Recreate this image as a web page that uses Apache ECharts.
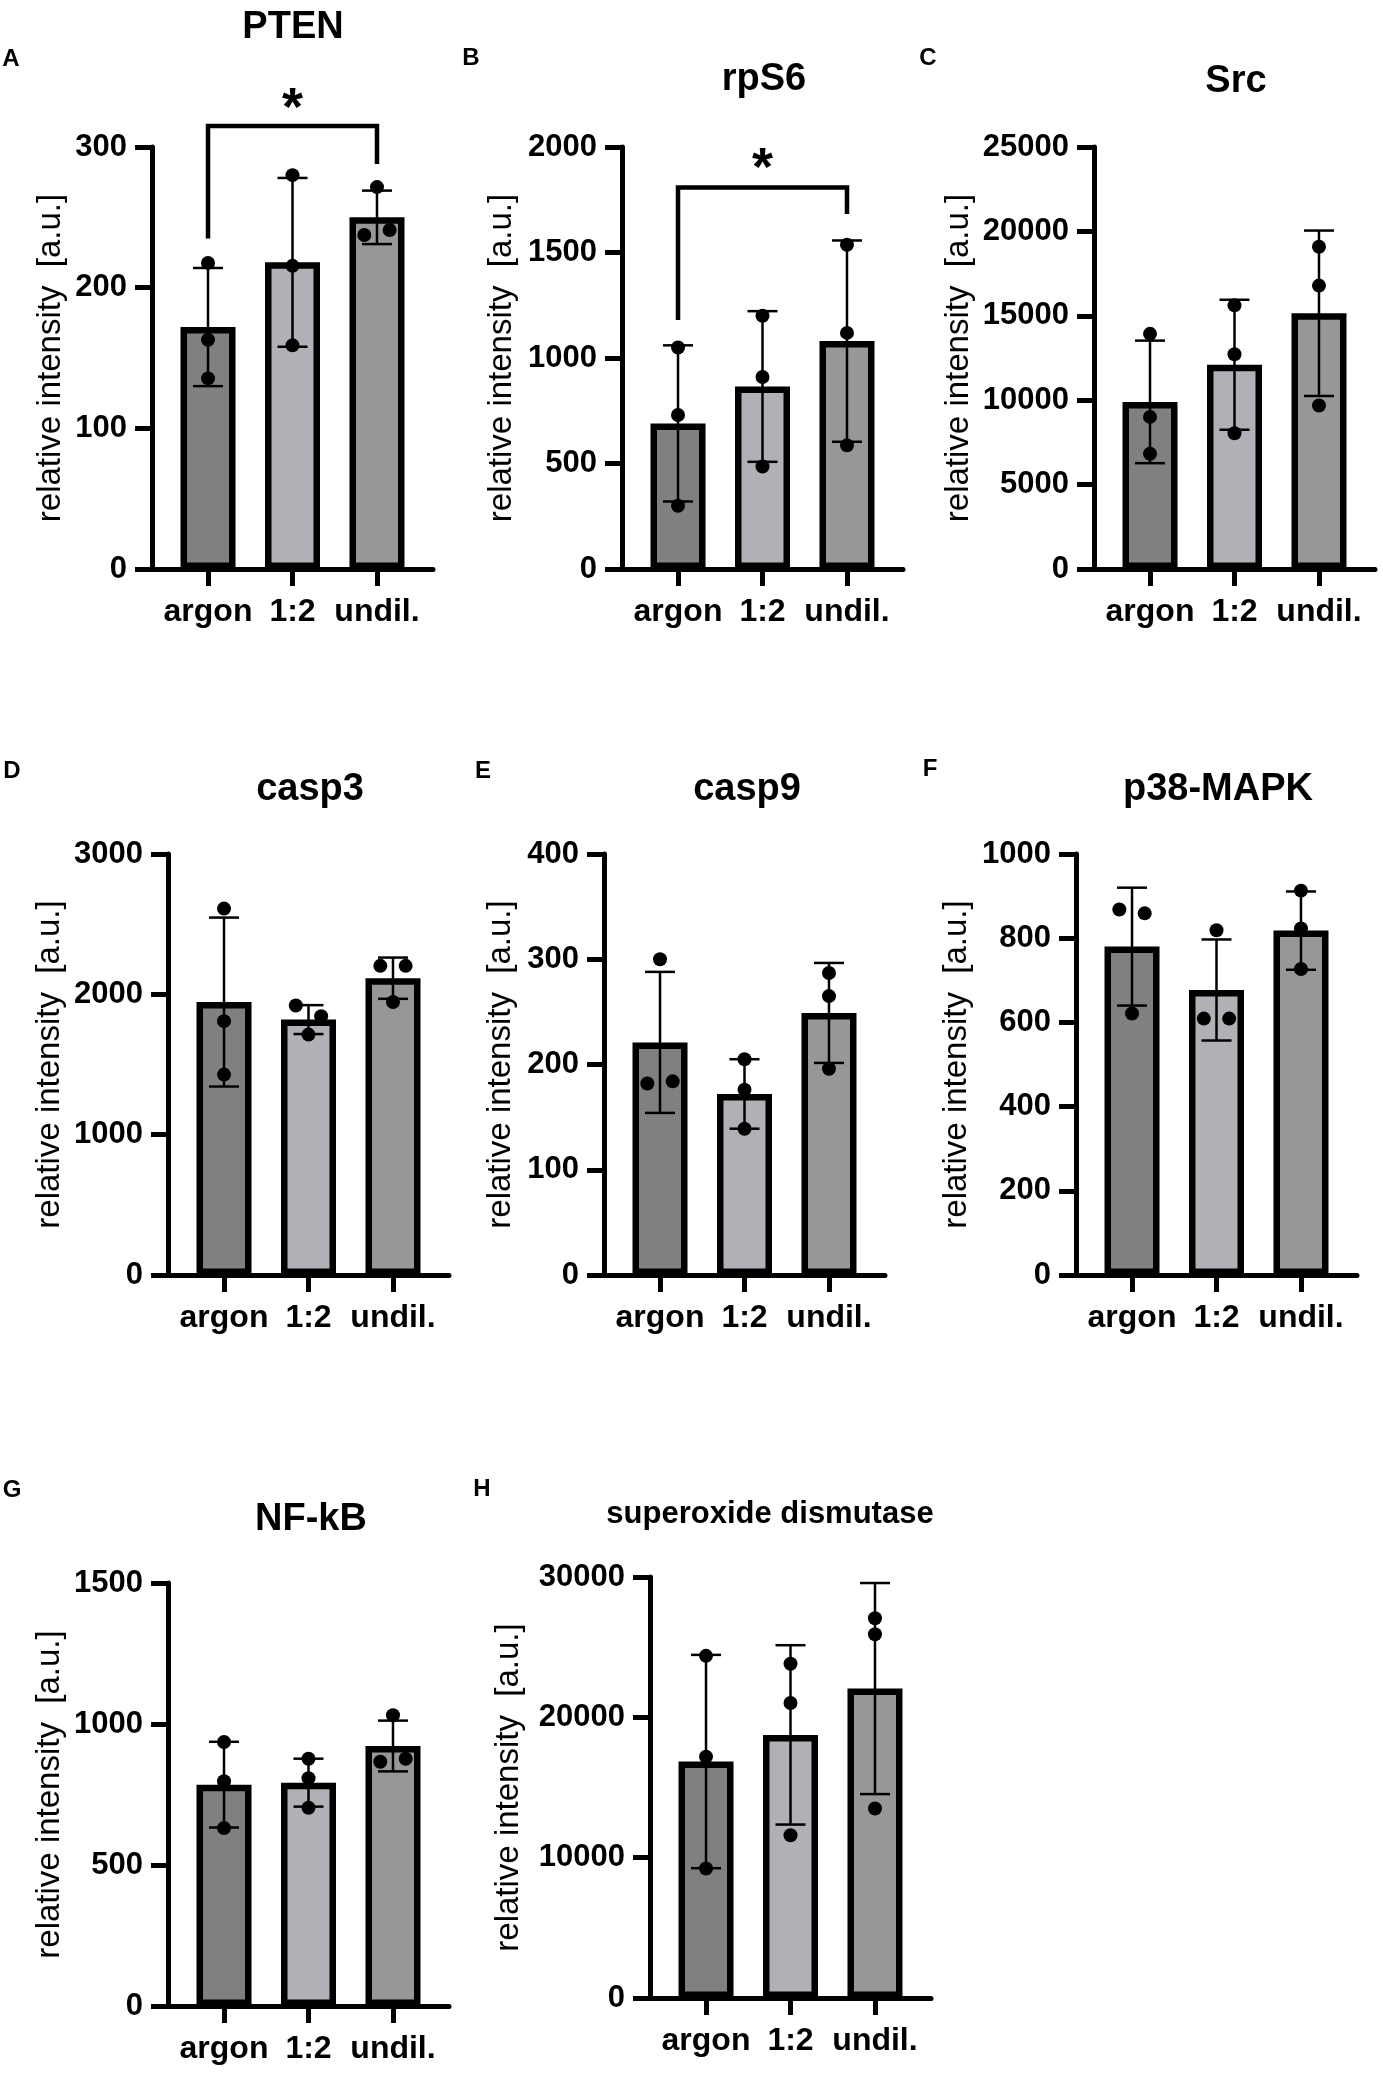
<!DOCTYPE html>
<html>
<head>
<meta charset="utf-8">
<script src="https://cdn.jsdelivr.net/npm/echarts@6.0.0/dist/echarts.min.js"></script>
<style>
  html, body { margin: 0; padding: 0; background: #fff; }
  #chart { width: 1383px; height: 2076px; }
</style>
</head>
<body>
<div id="chart"></div>
<script>
// groups and fills
var categories = ['argon', '1:2', 'undil.'];
var fills = ['#808080', '#b0b0b6', '#979797'];

// A  PTEN
var ptenMean = [172, 218, 250];
var ptenSD = [42, 60, 19];
var ptenPoints = [[217.6, 163, 135.5], [280, 215.5, 159], [271.5, 237.4, 241]];
var ptenTicks = [0, 100, 200, 300];
var ptenBracket = [0, 2, 315, 235, 288, 335]; // from, to, top, left end, right end, star

// B  rpS6
var rps6Mean = [690, 865, 1080];
var rps6SD = [370, 357, 477];
var rps6Points = [[1050, 730, 300], [1200, 910, 486], [1537, 1119, 586]];
var rps6Ticks = [0, 500, 1000, 1500, 2000];
var rps6Bracket = [0, 2, 1808, 1180, 1682, 1948];

// C  Src
var srcMean = [9900, 12100, 15150];
var srcSD = [3630, 3850, 4900];
var srcPoints = [[13930, 9010, 6830], [15620, 12720, 8040], [19090, 16790, 9690]];
var srcTicks = [0, 5000, 10000, 15000, 20000, 25000];

// D  casp3
var casp3Mean = [1945, 1820, 2115];
var casp3SD = [602, 103, 147];
var casp3Points = [[2611, 1809, 1428], [1920, 1844, 1713], [2203, 2203, 1945]];
var casp3Ticks = [0, 1000, 2000, 3000];

// E  casp9
var casp9Mean = [221, 172, 249];
var casp9SD = [67, 33, 47.5];
var casp9Points = [[300, 182, 184], [205, 176, 139], [287, 265, 196]];
var casp9Ticks = [0, 100, 200, 300, 400];

// F  p38-MAPK
var p38Mean = [780, 677, 818];
var p38SD = [140, 120, 93];
var p38Points = [[868, 859, 621], [819, 609, 609], [913, 823, 727]];
var p38Ticks = [0, 200, 400, 600, 800, 1000];

// G  NF-kB
var nfkbMean = [785, 792, 922];
var nfkbSD = [152, 85, 90];
var nfkbPoints = [[936, 797, 631], [877, 808, 703], [1031, 866, 877]];
var nfkbTicks = [0, 500, 1000, 1500];

// H  superoxide dismutase
var sodMean = [16850, 18750, 22050];
var sodSD = [7600, 6390, 7520];
var sodPoints = [[24380, 17190, 9230], [23820, 21020, 11600], [27060, 25920, 13500]];
var sodTicks = [0, 10000, 20000, 30000];

var FONT = '"Liberation Sans", Arial, Helvetica, sans-serif';

var panels = [
  { letter: 'A', title: 'PTEN', mean: ptenMean, sd: ptenSD, points: ptenPoints, ticks: ptenTicks, bracket: ptenBracket,
    left: 152, top: 147, height: 422, nameGap: 85, titleX: 293, titleY: 28, letterX: 11, letterY: 59 },
  { letter: 'B', title: 'rpS6', mean: rps6Mean, sd: rps6SD, points: rps6Points, ticks: rps6Ticks, bracket: rps6Bracket,
    left: 622, top: 147, height: 422, nameGap: 104, titleX: 764, titleY: 80, letterX: 471, letterY: 58 },
  { letter: 'C', title: 'Src', mean: srcMean, sd: srcSD, points: srcPoints, ticks: srcTicks,
    left: 1094, top: 147, height: 422, nameGap: 119, titleX: 1236, titleY: 82, letterX: 928, letterY: 58 },
  { letter: 'D', title: 'casp3', mean: casp3Mean, sd: casp3SD, points: casp3Points, ticks: casp3Ticks,
    left: 168, top: 854, height: 421, nameGap: 102, titleX: 310, titleY: 790, letterX: 12, letterY: 771 },
  { letter: 'E', title: 'casp9', mean: casp9Mean, sd: casp9SD, points: casp9Points, ticks: casp9Ticks,
    left: 604, top: 854, height: 421, nameGap: 87, titleX: 747, titleY: 790, letterX: 483, letterY: 771 },
  { letter: 'F', title: 'p38-MAPK', mean: p38Mean, sd: p38SD, points: p38Points, ticks: p38Ticks,
    left: 1076, top: 854, height: 421, nameGap: 103, titleX: 1218, titleY: 790, letterX: 930, letterY: 769 },
  { letter: 'G', title: 'NF-kB', mean: nfkbMean, sd: nfkbSD, points: nfkbPoints, ticks: nfkbTicks,
    left: 168, top: 1583, height: 423, nameGap: 102, titleX: 311, titleY: 1520, letterX: 12, letterY: 1490 },
  { letter: 'H', title: 'superoxide dismutase', titleSize: 31, mean: sodMean, sd: sodSD, points: sodPoints, ticks: sodTicks,
    left: 650, top: 1577, height: 421, nameGap: 125, titleX: 770, titleY: 1514, letterX: 482, letterY: 1489 }
];

var AXIS_W = 281;
var XMIN = -0.663, XMAX = 2.663;

// spread dots sideways when two values of a group would overlap
function jitter(points, yMax) {
  var out = [];
  points.forEach(function (vals, g) {
    var offs = vals.map(function () { return 0; });
    for (var i = 1; i < vals.length; i++) {
      for (var j = 0; j < i; j++) {
        if (Math.abs(vals[i] - vals[j]) < 0.035 * yMax && offs[j] === 0) {
          offs[j] = -0.15; offs[i] = 0.15; break;
        }
      }
    }
    vals.forEach(function (v, i) { out.push([g + offs[i], v]); });
  });
  return out;
}

var grids = [], xAxes = [], yAxes = [], series = [], graphics = [];

panels.forEach(function (p, k) {
  var yMax = p.ticks[p.ticks.length - 1];
  grids.push({ left: p.left, top: p.top, width: AXIS_W, height: p.height, containLabel: false });
  xAxes.push({
    gridIndex: k, type: 'value', min: XMIN, max: XMAX,
    axisLine: { show: true, onZero: false, lineStyle: { color: '#000', width: 5 } },
    axisTick: { show: true, customValues: [0, 1, 2], length: 17, lineStyle: { color: '#000', width: 5 } },
    axisLabel: { customValues: [0, 1, 2], margin: 27, color: '#000', fontFamily: FONT, fontWeight: 'bold', fontSize: 32,
      formatter: function (v) { return categories[Math.round(v)]; } },
    splitLine: { show: false }
  });
  yAxes.push({
    gridIndex: k, type: 'value', min: 0, max: yMax, interval: p.ticks[1] - p.ticks[0],
    name: 'relative intensity  [a.u.]', nameLocation: 'middle', nameGap: p.nameGap,
    nameTextStyle: { color: '#000', fontFamily: FONT, fontSize: 33, fontWeight: 'normal' },
    axisLine: { show: true, onZero: false, lineStyle: { color: '#000', width: 5 } },
    axisTick: { show: true, length: 17, lineStyle: { color: '#000', width: 5 } },
    axisLabel: { margin: 25, color: '#000', fontFamily: FONT, fontWeight: 'bold', fontSize: 31,
      formatter: function (v) { return String(v); } },
    splitLine: { show: false }
  });

  series.push({
    type: 'bar', xAxisIndex: k, yAxisIndex: k, barWidth: 55, z: 2,
    data: p.mean.map(function (m, i) {
      return { value: [i, m], itemStyle: { color: fills[i], borderColor: '#000', borderWidth: 6.5 } };
    })
  });

  series.push({
    type: 'custom', xAxisIndex: k, yAxisIndex: k, z: 3,
    data: p.mean.map(function (m, i) { return [i, m, p.sd[i]]; }),
    renderItem: function (params, api) {
      var x = api.value(0), m = api.value(1), s = api.value(2);
      var hi = api.coord([x, m + s]), lo = api.coord([x, m - s]);
      var st = { stroke: '#000', lineWidth: 2.5 };
      return { type: 'group', children: [
        { type: 'line', shape: { x1: hi[0], y1: hi[1], x2: lo[0], y2: lo[1] }, style: st },
        { type: 'line', shape: { x1: hi[0] - 15, y1: hi[1], x2: hi[0] + 15, y2: hi[1] }, style: st },
        { type: 'line', shape: { x1: lo[0] - 15, y1: lo[1], x2: lo[0] + 15, y2: lo[1] }, style: st }
      ] };
    }
  });

  series.push({
    type: 'scatter', xAxisIndex: k, yAxisIndex: k, z: 4,
    symbol: 'circle', symbolSize: 14, itemStyle: { color: '#000', opacity: 1 },
    data: jitter(p.points, yMax)
  });

  if (p.bracket) {
    series.push({
      type: 'custom', xAxisIndex: k, yAxisIndex: k, z: 5, clip: false,
      data: [p.bracket],
      renderItem: function (params, api) {
        var a = api.coord([api.value(0), api.value(3)]);
        var b = api.coord([api.value(0), api.value(2)]);
        var c = api.coord([api.value(1), api.value(2)]);
        var d = api.coord([api.value(1), api.value(4)]);
        var s = api.coord([(api.value(0) + api.value(1)) / 2, api.value(5)]);
        return { type: 'group', children: [
          { type: 'polyline', shape: { points: [a, b, c, d] }, style: { stroke: '#000', lineWidth: 4.5, fill: null } },
          { type: 'text', x: s[0], y: s[1] + 12,
            style: { text: '*', font: 'bold 54px ' + FONT, textAlign: 'center', textVerticalAlign: 'middle', fill: '#000' } }
        ] };
      }
    });
  }

  graphics.push({ type: 'text', x: p.titleX, y: p.titleY,
    style: { text: p.title, font: 'bold ' + (p.titleSize || 38) + 'px ' + FONT, textAlign: 'center', textVerticalAlign: 'middle', fill: '#000' } });
  graphics.push({ type: 'text', x: p.letterX, y: p.letterY,
    style: { text: p.letter, font: 'bold 24px ' + FONT, textAlign: 'center', textVerticalAlign: 'middle', fill: '#000' } });
});

var chart = echarts.init(document.getElementById('chart'));
chart.setOption({
  animation: false,
  backgroundColor: '#fff',
  grid: grids,
  xAxis: xAxes,
  yAxis: yAxes,
  series: series,
  graphic: graphics
});
</script>
</body>
</html>
